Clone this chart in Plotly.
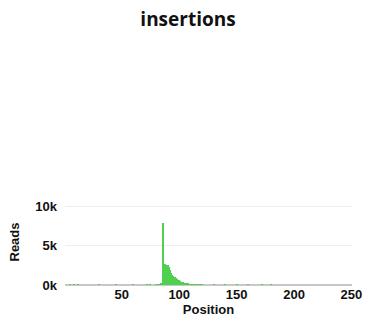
import plotly.graph_objects as go

positions = list(range(1, 251))
peak_positions = list(range(80, 121))
peak_reads = [20, 40, 60, 120, 200, 300, 7950, 2500, 2650, 2600, 2550, 2300, 1900, 1500,
              1250, 1100, 1000, 900, 800, 700, 600, 500, 420, 350, 300, 250, 200, 170,
              140, 120, 100, 90, 80, 70, 60, 50, 45, 40, 35, 30, 25]
sparse_positions = [5, 8, 12, 30, 45, 60, 72, 75, 130, 140, 150, 160, 172, 180]
sparse_reads = [60, 40, 50, 30, 40, 50, 60, 70, 60, 40, 50, 40, 60, 30]
reads = []
for p in positions:
    if p in peak_positions:
        reads.append(peak_reads[peak_positions.index(p)])
    elif p in sparse_positions:
        reads.append(sparse_reads[sparse_positions.index(p)])
    else:
        reads.append(0)

fig = go.Figure(go.Bar(x=positions, y=reads, marker=dict(color="#4fd14f", line=dict(width=0)),
                       width=1.0))
fig.update_layout(
    width=376, height=325,
    margin=dict(l=65, r=24, t=199, b=38),
    plot_bgcolor="white", paper_bgcolor="white",
    bargap=0,
    showlegend=False,
    title=dict(text="<b>insertions</b>", x=0.5, xanchor="center", y=0.94, yanchor="middle",
               font=dict(family="Open Sans", size=19, color="#111")),
    xaxis=dict(range=[0.5, 250.5], tickvals=[50, 100, 150, 200, 250], showgrid=False,
               showline=False, zeroline=False, ticks="",
               tickfont=dict(family="Liberation Sans", size=13, color="#111", weight="bold"),
               title=dict(text="<b>Position</b>", standoff=2,
                          font=dict(family="Liberation Sans", size=13, color="#111"))),
    yaxis=dict(range=[0, 11000], tickvals=[0, 5000, 10000], ticktext=["0k", "5k", "10k"],
               showgrid=True, gridcolor="#eeeeee", zeroline=True, zerolinecolor="#c8c8c8",
               zerolinewidth=2, ticks="", ticklabelstandoff=7,
               tickfont=dict(family="Liberation Sans", size=13, color="#111", weight="bold"),
               title=dict(text="<b>Reads</b>", standoff=12,
                          font=dict(family="Liberation Sans", size=13, color="#111"))),
)
fig.write_html("out.html")
